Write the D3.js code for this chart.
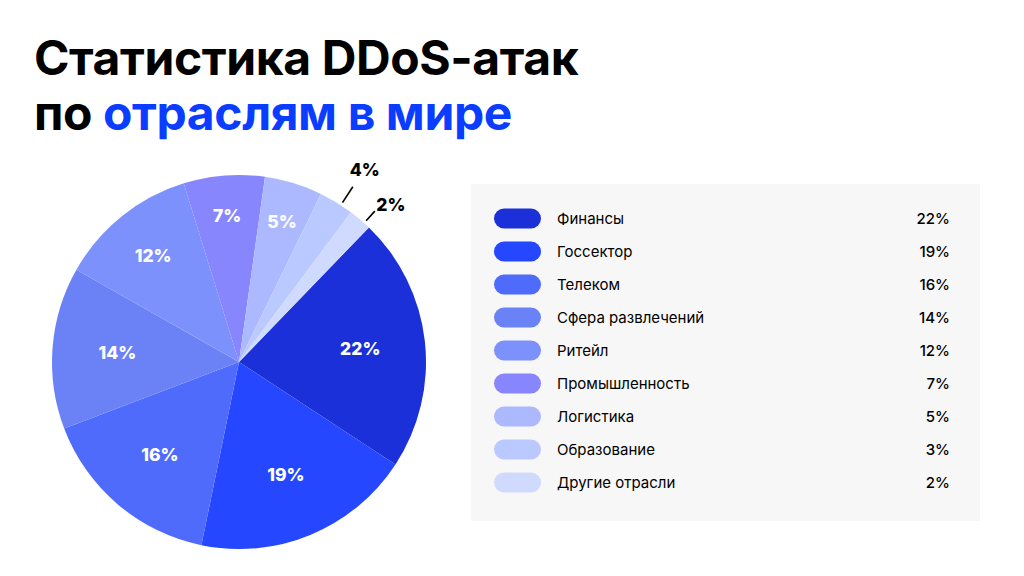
<!DOCTYPE html>
<html>
<head>
<meta charset="UTF-8">
<title>Статистика DDoS-атак</title>
<style>
  body { margin:0; background:#fff; }
  svg { display:block; font-family: Inter, "Noto Sans", sans-serif; }
</style>
</head>
<body>
<svg width="1024" height="576"></svg>
<script src="https://cdn.jsdelivr.net/npm/d3@7"></script>
<script>
// data
const categories = ['Финансы','Госсектор','Телеком','Сфера развлечений','Ритейл',
                    'Промышленность','Логистика','Образование','Другие отрасли'];
const values = [22, 19, 16, 14, 12, 7, 5, 3, 2];
// labels printed on the pie itself (the picture says 4% for education)
const pieLabels = ['22%','19%','16%','14%','12%','7%','5%','4%','2%'];
const colors = ['#1c30d9','#2447ff','#4f6bfb','#6a82f6','#7d91fd',
                '#8886fd','#adb9ff','#bac9ff','#d0d9fe'];

const svg = d3.select('svg');
const cx = 239, cy = 362, r = 187;

// title
const title = svg.append('text').attr('font-weight', 700)
  .attr('font-size', 48).attr('letter-spacing', -0.4);
title.append('tspan').attr('x', 34).attr('y', 75).attr('fill', '#000').text('Статистика DDoS-атак');
title.append('tspan').attr('x', 34).attr('y', 130).attr('fill', '#000').text('по ');
title.append('tspan').attr('fill', '#0a3dff').text('отраслям в мире');

// pie
const pie = d3.pie().sort(null)
  .startAngle(44 * Math.PI / 180)
  .endAngle(44 * Math.PI / 180 + 2 * Math.PI);
const arcs = pie(values);
const arc = d3.arc().innerRadius(0).outerRadius(r);
// smaller slices carry their labels further out
const labelR = d3.scaleLinear().domain([7, 12, 14]).range([147, 137, 122]).clamp(true);

const g = svg.append('g').attr('transform', `translate(${cx},${cy})`);
g.selectAll('path').data(arcs).enter().append('path')
  .attr('d', arc).attr('fill', (d, i) => colors[i]);

g.selectAll('text.in').data(arcs.filter(d => d.value >= 5)).enter().append('text')
  .attr('class', 'in')
  .attr('transform', d => {
    const a = (d.startAngle + d.endAngle) / 2, rr = labelR(d.value);
    return `translate(${Math.sin(a) * rr},${-Math.cos(a) * rr})`;
  })
  .attr('text-anchor', 'middle').attr('dy', '0.36em')
  .attr('fill', '#fff').attr('font-weight', 800).attr('font-size', 17.5)
  .text(d => pieLabels[d.index]);

// small slices: leader line + label outside
const small = arcs.filter(d => d.value < 5);
const lineLen = [19, 13];
const txtOff = [[12, -17], [16, -6]];
small.forEach((d, k) => {
  const a = (d.startAngle + d.endAngle) / 2 + 1.6 * Math.PI / 180;
  const pt = rr => [Math.sin(a) * rr, -Math.cos(a) * rr];
  const p0 = pt(r + 3), p1 = pt(r + 3 + lineLen[k]);
  g.append('line').attr('x1', p0[0]).attr('y1', p0[1]).attr('x2', p1[0]).attr('y2', p1[1])
    .attr('stroke', '#000').attr('stroke-width', 1.6);
  g.append('text').attr('x', p1[0] + txtOff[k][0]).attr('y', p1[1] + txtOff[k][1]).attr('dy', '0.36em')
    .attr('text-anchor', 'middle').attr('font-weight', 800).attr('font-size', 17.5)
    .attr('fill', '#000').text(pieLabels[d.index]);
});

// legend
svg.append('rect').attr('x', 471).attr('y', 184).attr('width', 509).attr('height', 337)
  .attr('fill', '#f7f7f7');
const y = d3.scaleBand().domain(categories).range([202, 499]);
const lg = svg.selectAll('g.leg').data(categories).enter().append('g')
  .attr('class', 'leg')
  .attr('transform', d => `translate(0,${y(d) + y.bandwidth() / 2})`);
lg.append('rect').attr('x', 494).attr('y', -10).attr('width', 47).attr('height', 20)
  .attr('rx', 10).attr('fill', (d, i) => colors[i]);
lg.append('text').attr('x', 557).attr('dy', '0.35em').attr('font-size', 15)
  .attr('fill', '#000').text(d => d);
lg.append('text').attr('x', 950).attr('dy', '0.35em').attr('font-size', 15)
  .attr('font-weight', 500).attr('text-anchor', 'end').attr('fill', '#000')
  .text((d, i) => values[i] + '%');
</script>
</body>
</html>
